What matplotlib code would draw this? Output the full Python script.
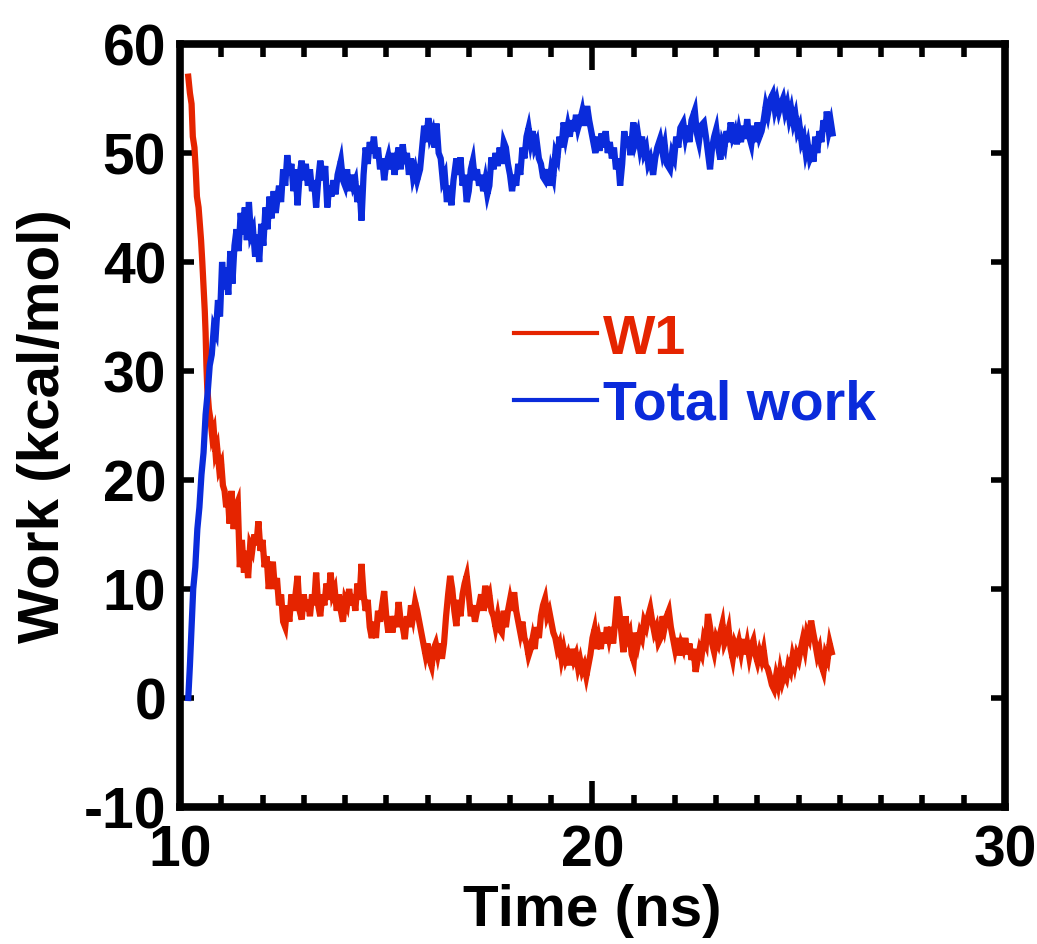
import matplotlib
matplotlib.use("Agg")
import matplotlib.pyplot as plt
from matplotlib.ticker import MultipleLocator

# ---- data ----
total_work = [
    (10.2, 0.0), (10.24, 3.0), (10.28, 6.5), (10.32, 10.0), (10.37, 12.0), (10.42, 15.5),
    (10.47, 17.5), (10.52, 20.5), (10.57, 22.5), (10.62, 26.0), (10.67, 28.0), (10.72, 30.5),
    (10.77, 31.5), (10.82, 34.0), (10.87, 33.5), (10.92, 36.5), (10.97, 35.0), (11.02, 40.0),
    (11.07, 37.5), (11.12, 39.5), (11.17, 37.0), (11.22, 41.0), (11.27, 38.0), (11.32, 41.5),
    (11.37, 43.0), (11.42, 41.0), (11.47, 44.5), (11.52, 42.5), (11.57, 45.0), (11.62, 42.0),
    (11.67, 45.5), (11.72, 42.5), (11.77, 43.0), (11.82, 40.5), (11.87, 42.5), (11.92, 40.0),
    (11.97, 43.5), (12.02, 41.5), (12.07, 45.0), (12.12, 43.0), (12.17, 46.0), (12.22, 44.0),
    (12.27, 46.5), (12.32, 44.5), (12.4, 47.0), (12.45, 45.5), (12.5, 48.5), (12.55, 47.0),
    (12.6, 49.8), (12.65, 48.0), (12.7, 49.0), (12.75, 46.5), (12.8, 48.5), (12.85, 45.2),
    (12.9, 48.0), (12.95, 49.3), (13.0, 47.5), (13.05, 49.0), (13.1, 47.0), (13.15, 48.5),
    (13.2, 46.5), (13.25, 47.5), (13.3, 45.0), (13.35, 47.5), (13.4, 49.3), (13.47, 47.5),
    (13.52, 48.8), (13.57, 45.0), (13.62, 47.0), (13.67, 46.0), (13.72, 47.5), (13.77, 46.2),
    (13.82, 48.0), (13.9, 49.3), (13.95, 47.5), (14.0, 47.0), (14.05, 48.5), (14.1, 46.5),
    (14.15, 48.0), (14.2, 47.0), (14.25, 47.5), (14.3, 45.5), (14.35, 47.0), (14.4, 43.8),
    (14.45, 48.0), (14.5, 50.5), (14.55, 49.0), (14.6, 51.0), (14.65, 50.0), (14.7, 51.5),
    (14.75, 49.5), (14.8, 50.5), (14.85, 48.5), (14.9, 49.5), (14.95, 47.5), (15.0, 49.0),
    (15.05, 49.7), (15.1, 48.5), (15.15, 50.0), (15.2, 48.0), (15.25, 49.5), (15.3, 50.5),
    (15.35, 48.5), (15.4, 50.8), (15.45, 49.0), (15.5, 50.0), (15.55, 48.0), (15.6, 49.5),
    (15.65, 47.8), (15.7, 48.5), (15.75, 47.5), (15.82, 48.5), (15.87, 50.5), (15.92, 52.5),
    (15.97, 51.0), (16.02, 53.2), (16.07, 51.5), (16.12, 52.0), (16.17, 50.5), (16.22, 52.7),
    (16.27, 50.0), (16.32, 49.5), (16.37, 47.5), (16.42, 48.0), (16.47, 45.5), (16.52, 47.0),
    (16.58, 45.2), (16.63, 47.5), (16.7, 49.5), (16.75, 48.0), (16.8, 49.6), (16.85, 47.0),
    (16.9, 48.0), (16.95, 45.5), (17.0, 46.5), (17.05, 48.5), (17.1, 49.3), (17.15, 47.5),
    (17.2, 48.5), (17.25, 47.0), (17.3, 48.0), (17.35, 46.5), (17.4, 47.5), (17.45, 46.2),
    (17.5, 47.0), (17.55, 49.6), (17.6, 48.5), (17.65, 50.0), (17.7, 48.8), (17.75, 50.5),
    (17.8, 49.0), (17.85, 51.0), (17.9, 50.5), (17.95, 49.0), (18.0, 48.0), (18.05, 46.5),
    (18.1, 48.0), (18.15, 47.0), (18.2, 49.0), (18.25, 48.0), (18.3, 50.5), (18.35, 49.5),
    (18.4, 51.5), (18.45, 52.3), (18.5, 51.0), (18.55, 52.0), (18.6, 50.5), (18.65, 51.0),
    (18.7, 49.5), (18.75, 49.0), (18.8, 47.8), (18.85, 47.5), (18.9, 48.5), (18.95, 47.0),
    (19.0, 48.5), (19.05, 47.8), (19.1, 50.0), (19.15, 49.5), (19.2, 51.5), (19.25, 50.5),
    (19.3, 52.8), (19.35, 51.5), (19.4, 52.5), (19.45, 51.5), (19.5, 53.0), (19.55, 52.0),
    (19.6, 53.5), (19.65, 52.3), (19.7, 53.0), (19.75, 53.8), (19.8, 52.5), (19.87, 54.3),
    (19.92, 53.0), (19.97, 52.0), (20.02, 51.0), (20.07, 50.0), (20.12, 51.5), (20.17, 50.2),
    (20.22, 51.8), (20.27, 50.5), (20.32, 52.0), (20.37, 50.0), (20.42, 51.0), (20.47, 49.5),
    (20.52, 50.5), (20.57, 48.5), (20.62, 49.5), (20.67, 47.0), (20.72, 49.0), (20.77, 52.0),
    (20.82, 50.5), (20.87, 51.5), (20.92, 49.8), (20.99, 52.8), (21.04, 51.0), (21.1, 51.8),
    (21.15, 50.5), (21.2, 51.5), (21.25, 50.0), (21.3, 50.5), (21.35, 49.0), (21.4, 49.5),
    (21.47, 48.0), (21.52, 49.5), (21.57, 50.5), (21.64, 51.3), (21.7, 50.0), (21.75, 50.8),
    (21.8, 49.0), (21.88, 48.5), (21.93, 50.0), (21.98, 49.5), (22.03, 51.5), (22.08, 50.5),
    (22.13, 52.3), (22.2, 52.8), (22.25, 51.5), (22.3, 52.5), (22.35, 51.0), (22.4, 53.0),
    (22.48, 53.9), (22.53, 51.8), (22.58, 51.0), (22.63, 52.5), (22.7, 52.8), (22.75, 51.5),
    (22.8, 50.0), (22.85, 48.5), (22.9, 50.5), (22.95, 51.5), (23.0, 52.2), (23.05, 50.5),
    (23.1, 49.4), (23.15, 51.0), (23.2, 50.5), (23.25, 52.0), (23.3, 51.0), (23.35, 52.8),
    (23.4, 51.5), (23.45, 52.0), (23.5, 50.8), (23.55, 52.0), (23.6, 51.0), (23.65, 52.5),
    (23.7, 51.3), (23.75, 53.1), (23.8, 51.5), (23.85, 50.8), (23.9, 52.5), (23.95, 51.0),
    (24.0, 52.8), (24.05, 51.5), (24.1, 52.0), (24.15, 53.0), (24.2, 54.3), (24.25, 53.5),
    (24.32, 55.0), (24.37, 55.4), (24.42, 54.0), (24.47, 54.8), (24.52, 53.8), (24.57, 54.5),
    (24.62, 55.0), (24.67, 53.8), (24.72, 54.5), (24.77, 53.2), (24.82, 54.0), (24.87, 52.8),
    (24.92, 53.5), (24.97, 52.0), (25.02, 52.5), (25.07, 51.0), (25.12, 51.5), (25.17, 50.0),
    (25.22, 50.8), (25.27, 49.5), (25.32, 50.0), (25.36, 49.2), (25.4, 51.5), (25.45, 50.0),
    (25.5, 52.0), (25.55, 51.0), (25.6, 53.0), (25.65, 52.0), (25.68, 53.8), (25.73, 52.0),
    (25.78, 52.8), (25.82, 51.8),
]

w1 = [
    (10.2, 57.0), (10.24, 55.5), (10.28, 54.5), (10.31, 51.5), (10.35, 50.5), (10.38, 48.5),
    (10.41, 46.0), (10.45, 45.0), (10.48, 43.5), (10.51, 42.0), (10.54, 40.0), (10.57, 37.8),
    (10.6, 35.5), (10.62, 33.5), (10.64, 30.5), (10.66, 28.5), (10.7, 26.5), (10.74, 25.5),
    (10.78, 24.0), (10.82, 24.5), (10.86, 22.5), (10.9, 23.0), (10.95, 21.0), (11.0, 21.5),
    (11.04, 19.5), (11.08, 19.0), (11.12, 17.5), (11.16, 18.5), (11.2, 16.0), (11.25, 19.0),
    (11.3, 15.5), (11.35, 17.5), (11.4, 18.0), (11.45, 12.0), (11.5, 14.5), (11.55, 11.5),
    (11.6, 13.5), (11.65, 11.0), (11.7, 14.0), (11.75, 13.5), (11.8, 15.0), (11.85, 14.0),
    (11.9, 16.2), (11.95, 13.5), (12.0, 14.5), (12.05, 12.0), (12.1, 13.0), (12.15, 10.0),
    (12.2, 11.5), (12.25, 12.5), (12.3, 10.0), (12.35, 11.0), (12.4, 8.5), (12.45, 9.5),
    (12.5, 7.0), (12.55, 6.5), (12.6, 8.5), (12.65, 7.0), (12.7, 9.5), (12.75, 8.0),
    (12.8, 9.5), (12.85, 11.2), (12.9, 8.0), (12.95, 7.2), (13.0, 9.5), (13.05, 8.0),
    (13.1, 9.0), (13.15, 7.5), (13.2, 9.5), (13.25, 8.5), (13.3, 11.5), (13.35, 8.5),
    (13.4, 7.5), (13.45, 9.5), (13.5, 8.5), (13.55, 10.5), (13.6, 9.0), (13.65, 11.5),
    (13.7, 9.5), (13.75, 10.0), (13.8, 8.0), (13.85, 9.5), (13.9, 8.0), (13.95, 7.0),
    (14.0, 9.0), (14.05, 8.5), (14.1, 10.0), (14.15, 8.5), (14.2, 9.5), (14.25, 8.0),
    (14.3, 10.5), (14.35, 9.0), (14.4, 12.3), (14.45, 9.5), (14.5, 8.0), (14.55, 9.0),
    (14.6, 6.5), (14.65, 5.5), (14.7, 7.0), (14.75, 5.5), (14.8, 8.0), (14.85, 7.0),
    (14.9, 8.5), (14.95, 9.8), (15.0, 7.5), (15.05, 6.0), (15.1, 7.5), (15.15, 6.0),
    (15.2, 7.5), (15.25, 6.5), (15.3, 8.8), (15.35, 7.0), (15.4, 6.5), (15.45, 5.4),
    (15.5, 7.5), (15.55, 6.5), (15.6, 8.5), (15.65, 7.5), (15.7, 8.8), (15.75, 8.0),
    (15.8, 7.0), (15.85, 6.0), (15.9, 5.0), (15.95, 4.0), (16.0, 5.0), (16.05, 3.5),
    (16.1, 2.9), (16.15, 4.5), (16.2, 5.0), (16.25, 4.0), (16.3, 5.0), (16.35, 3.6),
    (16.4, 5.0), (16.45, 7.5), (16.5, 9.5), (16.55, 11.2), (16.6, 10.0), (16.65, 8.0),
    (16.7, 6.6), (16.75, 9.0), (16.8, 7.5), (16.85, 9.5), (16.9, 10.5), (16.95, 11.2),
    (17.0, 9.5), (17.05, 7.5), (17.1, 8.5), (17.15, 7.0), (17.2, 8.0), (17.25, 8.5),
    (17.3, 9.5), (17.35, 8.0), (17.4, 10.3), (17.45, 9.0), (17.5, 9.5), (17.55, 8.0),
    (17.6, 7.5), (17.65, 6.5), (17.7, 7.5), (17.75, 6.3), (17.8, 6.0), (17.85, 8.0),
    (17.9, 6.5), (17.95, 8.0), (18.0, 9.0), (18.05, 8.0), (18.1, 9.7), (18.15, 8.0),
    (18.2, 7.0), (18.25, 6.0), (18.3, 7.0), (18.35, 5.5), (18.4, 5.0), (18.45, 3.9),
    (18.5, 4.5), (18.55, 5.5), (18.6, 4.5), (18.65, 6.5), (18.7, 5.5), (18.75, 7.5),
    (18.8, 8.5), (18.85, 9.1), (18.9, 7.5), (18.95, 8.0), (19.0, 7.0), (19.05, 6.0),
    (19.1, 5.5), (19.15, 4.5), (19.2, 5.0), (19.25, 3.6), (19.3, 4.5), (19.35, 3.5),
    (19.4, 4.0), (19.45, 3.0), (19.5, 4.5), (19.55, 3.5), (19.6, 4.0), (19.65, 2.8),
    (19.7, 3.5), (19.75, 2.5), (19.8, 3.0), (19.85, 2.0), (19.9, 3.0), (19.95, 4.0),
    (20.0, 5.5), (20.05, 6.3), (20.1, 4.5), (20.15, 5.5), (20.2, 4.5), (20.25, 6.0),
    (20.3, 5.0), (20.35, 6.5), (20.4, 5.5), (20.45, 6.5), (20.5, 5.0), (20.55, 7.0),
    (20.6, 9.3), (20.65, 8.0), (20.7, 6.0), (20.75, 4.2), (20.8, 7.5), (20.85, 5.5),
    (20.9, 6.0), (20.95, 4.0), (21.0, 3.4), (21.05, 6.0), (21.1, 5.0), (21.15, 6.0),
    (21.2, 5.5), (21.25, 7.0), (21.3, 6.5), (21.35, 7.5), (21.4, 8.2), (21.45, 7.0),
    (21.5, 6.0), (21.55, 6.5), (21.6, 5.1), (21.65, 5.5), (21.7, 7.5), (21.75, 6.5),
    (21.8, 7.5), (21.85, 8.0), (21.9, 6.5), (21.95, 5.5), (22.0, 4.5), (22.05, 5.5),
    (22.1, 3.9), (22.15, 5.0), (22.2, 4.5), (22.25, 5.5), (22.3, 4.0), (22.35, 5.0),
    (22.4, 3.5), (22.45, 4.5), (22.5, 2.4), (22.55, 3.5), (22.6, 4.5), (22.65, 4.0),
    (22.7, 5.5), (22.75, 5.0), (22.8, 7.7), (22.85, 6.5), (22.9, 5.0), (22.95, 4.2),
    (23.0, 5.5), (23.05, 5.0), (23.1, 6.0), (23.15, 6.8), (23.2, 5.0), (23.25, 5.5),
    (23.3, 6.3), (23.35, 4.5), (23.4, 3.6), (23.45, 5.0), (23.5, 4.5), (23.55, 5.2),
    (23.6, 4.2), (23.65, 5.4), (23.7, 4.0), (23.75, 5.0), (23.8, 3.8), (23.85, 4.8),
    (23.9, 5.3), (23.95, 4.0), (24.0, 3.3), (24.05, 4.2), (24.1, 3.5), (24.15, 4.4),
    (24.2, 3.0), (24.25, 2.7), (24.3, 2.0), (24.35, 1.2), (24.4, 0.8), (24.45, 2.0),
    (24.5, 1.2), (24.55, 2.5), (24.6, 1.5), (24.65, 2.2), (24.7, 1.8), (24.75, 3.0),
    (24.8, 2.5), (24.85, 3.8), (24.9, 3.0), (24.95, 4.0), (25.0, 3.5), (25.05, 4.5),
    (25.1, 5.4), (25.15, 4.5), (25.2, 6.0), (25.25, 5.5), (25.3, 7.1), (25.35, 6.0),
    (25.4, 5.0), (25.45, 3.9), (25.5, 4.5), (25.55, 3.0), (25.6, 2.4), (25.65, 4.0),
    (25.7, 3.5), (25.75, 5.0), (25.8, 4.2),
]

series_labels = ["W1", "Total work"]
series_colors = ["#E52400", "#0A2BDB"]
x_ticks = [10, 20, 30]
y_ticks = [-10, 0, 10, 20, 30, 40, 50, 60]

t_total = [p[0] for p in total_work]
v_total = [p[1] for p in total_work]
t_w1 = [p[0] for p in w1]
v_w1 = [p[1] for p in w1]

plt.rcParams['font.family'] = ['Liberation Sans', 'DejaVu Sans']
plt.rcParams['font.weight'] = 'bold'
plt.rcParams['axes.unicode_minus'] = False

fig = plt.figure(figsize=(10.37, 9.45), dpi=100)
ax = fig.add_axes([0.1736, 0.145, 0.7955, 0.8074])

ax.plot(t_w1, v_w1, color=series_colors[0], lw=4.5, label=series_labels[0],
        solid_joinstyle='miter')
ax.plot(t_total, v_total, color=series_colors[1], lw=4.5, label=series_labels[1],
        solid_joinstyle='miter')

ax.set_xlim(10, 30)
ax.set_ylim(-10, 60)
ax.set_xticks(x_ticks)
ax.set_yticks(y_ticks)
ax.xaxis.set_minor_locator(MultipleLocator(1))

for s in ax.spines.values():
    s.set_linewidth(5.5)

ax.tick_params(axis='both', which='both', direction='in', top=True, right=True,
               labelsize=41, width=4)
ax.tick_params(axis='x', which='major', length=19, pad=12)
ax.tick_params(axis='x', which='minor', length=9)
ax.tick_params(axis='y', which='major', length=10, pad=10)

ax.set_xlabel("Time (ns)", fontsize=42, fontweight='bold', labelpad=4)
ax.set_ylabel("Work (kcal/mol)", fontsize=42, fontweight='bold', labelpad=9)

leg = ax.legend(loc='upper left', bbox_to_anchor=(0.405, 0.648), frameon=False,
                fontsize=40, handlelength=1.5, handletextpad=0.1,
                labelspacing=0.26, borderpad=0, borderaxespad=0,
                labelcolor='linecolor')
for line in leg.get_lines():
    line.set_linewidth(3.0)

fig.savefig("out.png", dpi=100)
